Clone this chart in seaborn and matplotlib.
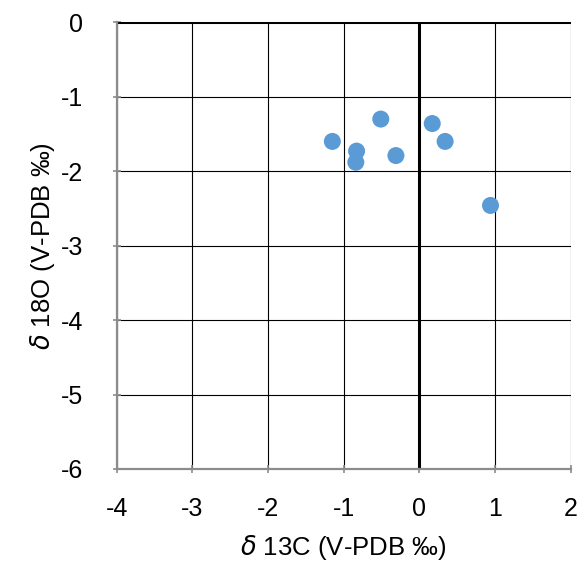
import matplotlib
matplotlib.use("Agg")
import matplotlib.pyplot as plt
import seaborn as sns
import pandas as pd

# delta 13C and delta 18O values
d13c = [-1.15, -0.83, -0.84, -0.51, -0.31, 0.17, 0.34, 0.94]
d18o = [-1.60, -1.73, -1.88, -1.30, -1.79, -1.36, -1.60, -2.46]
x_ticks = [-4, -3, -2, -1, 0, 1, 2]
y_ticks = [0, -1, -2, -3, -4, -5, -6]

df = pd.DataFrame({"d13C": d13c, "d18O": d18o})

sns.set_style("white")
plt.rcParams["font.family"] = ["Liberation Sans", "DejaVu Sans"]
plt.rcParams["axes.unicode_minus"] = False
plt.rcParams["text.color"] = "black"
plt.rcParams["axes.labelcolor"] = "black"
plt.rcParams["xtick.labelcolor"] = "black"
plt.rcParams["ytick.labelcolor"] = "black"

fig = plt.figure(figsize=(5.8, 5.66), dpi=100)
ax = fig.add_axes([0.2012, 0.1714, 0.984 - 0.2012, 0.9606 - 0.1714])

ax.set_xlim(-4, 2)
ax.set_ylim(-6, 0)
ax.set_xticks(x_ticks)
ax.set_yticks(y_ticks)
ax.grid(True, color="black", linewidth=0.8)
ax.set_axisbelow(True)

# thick zero lines
ax.axhline(0, color="black", linewidth=2.2, zorder=2)
ax.axvline(0, color="black", linewidth=2.2, zorder=2)

sns.scatterplot(data=df, x="d13C", y="d18O", ax=ax, s=150,
                color="#5b9bd5", edgecolor="none", zorder=3, clip_on=False)

for side in ["top", "right"]:
    ax.spines[side].set_visible(False)
for side in ["left", "bottom"]:
    ax.spines[side].set_color("#8c8c8c")
    ax.spines[side].set_linewidth(1.6)

ax.tick_params(axis="both", direction="inout", length=6, width=1.2,
               color="#8c8c8c", labelsize=18, left=True, bottom=True)
ax.tick_params(axis="x", pad=17)
ax.tick_params(axis="y", pad=21)

ax.set_xlabel(r"$\delta$ 13C (V-PDB ‰)", fontsize=18.5, labelpad=9)
ax.set_ylabel(r"$\delta$ 18O (V-PDB ‰)", fontsize=18.5, labelpad=3)

plt.savefig("out.png", dpi=100)
